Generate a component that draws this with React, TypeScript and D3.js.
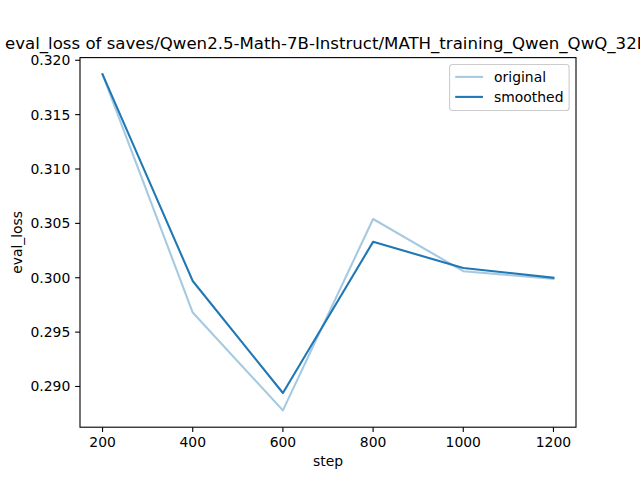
import React, { useEffect } from 'react';
import * as d3 from 'd3';

const steps = [200, 400, 600, 800, 1000, 1200];
const original = [0.3187, 0.2968, 0.2878, 0.3054, 0.3006, 0.2999];
const smoothed = [0.3187, 0.2997, 0.2894, 0.3033, 0.3009, 0.3];
const xTicks = [200, 400, 600, 800, 1000, 1200];
const yTicks = [0.29, 0.295, 0.3, 0.305, 0.31, 0.315, 0.32];
const title = 'eval_loss of saves/Qwen2.5-Math-7B-Instruct/MATH_training_Qwen_QwQ_32B';

const W = 640;
const H = 480;
const left = 80;
const right = 576;
const top = 57.6;
const bottom = 427.2;
const font = '"DejaVu Sans", sans-serif';
const blue = '#1f77b4';

const App = () => {
  useEffect(() => {
    document.body.style.margin = '0';
  }, []);

  const all = original.concat(smoothed);
  const [lo, hi] = d3.extent(all) as [number, number];
  const pad = (hi - lo) * 0.05;
  const x = d3.scaleLinear().domain([150, 1250]).range([left, right]);
  const y = d3.scaleLinear().domain([lo - pad, hi + pad]).range([bottom, top]);

  const line = d3.line<number>()
    .x((_, i) => x(steps[i]))
    .y(d => y(d));

  const legendX = 449.6;
  const legendY = 64.5;

  return (
    <svg width={W} height={H} style={{ display: 'block' }} fontFamily={font}>
      <rect width={W} height={H} fill="white" />
      <path d={line(original) ?? ''} fill="none" stroke={blue} strokeOpacity={0.4} strokeWidth={2.08} strokeLinejoin="round" strokeLinecap="square" />
      <path d={line(smoothed) ?? ''} fill="none" stroke={blue} strokeWidth={2.08} strokeLinejoin="round" strokeLinecap="square" />
      <rect x={left} y={top} width={right - left} height={bottom - top} fill="none" stroke="black" strokeWidth={1.1} />
      {xTicks.map(t => (
        <g key={t} transform={`translate(${x(t)},${bottom})`}>
          <line y2={4.86} stroke="black" strokeWidth={1.1} />
          <text y={19.5} textAnchor="middle" fontSize={13.9} fill="black">{t}</text>
        </g>
      ))}
      {yTicks.map(t => (
        <g key={t} transform={`translate(${left},${y(t)})`}>
          <line x2={-4.86} stroke="black" strokeWidth={1.1} />
          <text x={-9.7} dy="0.35em" textAnchor="end" fontSize={13.9} fill="black">{d3.format('.3f')(t)}</text>
        </g>
      ))}
      <text x={(left + right) / 2} y={466} textAnchor="middle" fontSize={13.9} fill="black">step</text>
      <text transform={`translate(22,${(top + bottom) / 2}) rotate(-90)`} textAnchor="middle" fontSize={13.9} fill="black">eval_loss</text>
      {/* title is wider than the figure; it gets clipped at the right like the original */}
      <text x={5} y={49.3} fontSize={16.6} fill="black">{title}</text>
      <g transform={`translate(${legendX},${legendY})`}>
        <rect width={119.5} height={46} rx={2.8} fill="white" fillOpacity={0.8} stroke="#cccccc" strokeWidth={1.1} />
        {[['original', 0.4], ['smoothed', 1]].map(([label, op], i) => (
          <g key={label as string} transform={`translate(0,${12.4 + i * 20})`}>
            <line x1={5.6} x2={33.4} stroke={blue} strokeOpacity={op as number} strokeWidth={2.08} />
            <text x={44.5} dy="0.35em" fontSize={13.9} fill="black">{label}</text>
          </g>
        ))}
      </g>
    </svg>
  );
};

export default App;
